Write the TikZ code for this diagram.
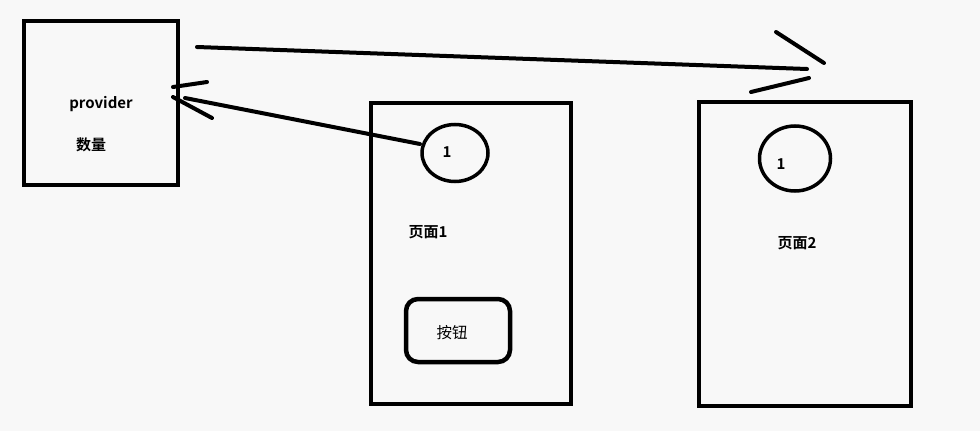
\documentclass[tikz,border=0pt]{standalone}
\usepackage{fontspec}
\setmainfont{Noto Sans CJK SC}[BoldFont={Noto Sans CJK SC Bold}]
\usetikzlibrary{shapes.geometric}
\definecolor{bgc}{HTML}{F8F8F8}
\tikzset{
  box/.style={draw=black, line width=4.5pt, rectangle, inner sep=0pt},
  oval/.style={draw=black, line width=3.5pt, ellipse, inner sep=0pt},
  btn/.style={draw=black, line width=4.5pt, rectangle, rounded corners=12pt, inner sep=0pt},
  lbl/.style={font=\fontsize{15pt}{17pt}\selectfont\bfseries, inner sep=0pt},
  lblr/.style={font=\fontsize{15.5pt}{17pt}\selectfont, inner sep=0pt},
  stroke/.style={line width=4pt, line cap=round}
}
\begin{document}
\begin{tikzpicture}[x=1pt,y=-1pt]
\fill[bgc] (0,0) rectangle (980,431);
\useasboundingbox (0,0) rectangle (980,431);
% boxes
\node[box, minimum width=154pt, minimum height=164pt] (prov) at (101,103) {};
\node[box, minimum width=200pt, minimum height=301pt] (page1) at (471,253.5) {};
\node[box, minimum width=212pt, minimum height=304pt] (page2) at (805,254) {};
\node[oval, minimum width=66pt, minimum height=57pt] (c1) at (455,153) {};
\node[oval, minimum width=71pt, minimum height=65pt] (c2) at (795,158.5) {};
\node[btn, minimum width=104pt, minimum height=63pt] (button) at (458,330.5) {};
% texts
\node[lbl] (tprov) at (101,104) {provider};
\node[lbl] (tnum) at (91,145) {数量};
\node[lbl] (t1a) at (447,152) {1};
\node[lbl] (t1b) at (781,164) {1};
\node[lbl] (tp1) at (428,232) {页面1};
\node[lbl] (tp2) at (797,243) {页面2};
\node[lblr] (tbtn) at (452,333) {按钮};
% arrow from circle 1 to provider
\coordinate (tipA) at (185,98);
\coordinate (a1s) at (173,87);
\coordinate (a1e) at (207,82);
\coordinate (a2s) at (173,97);
\coordinate (a2e) at (212,118);
\coordinate (c1w) at (420,144);
\draw[stroke] (c1w) -- (tipA);
\draw[stroke] (a1s) -- (a1e);
\draw[stroke] (a2s) -- (a2e);
% arrow from provider to page 2
\coordinate (startB) at (197,47);
\coordinate (tipB) at (807,69);
\coordinate (b1s) at (776,32);
\coordinate (b1e) at (824,63);
\coordinate (b2s) at (751,92);
\coordinate (b2e) at (809,78);
\draw[stroke] (startB) -- (tipB);
\draw[stroke] (b1s) -- (b1e);
\draw[stroke] (b2s) -- (b2e);
\end{tikzpicture}
\end{document}
